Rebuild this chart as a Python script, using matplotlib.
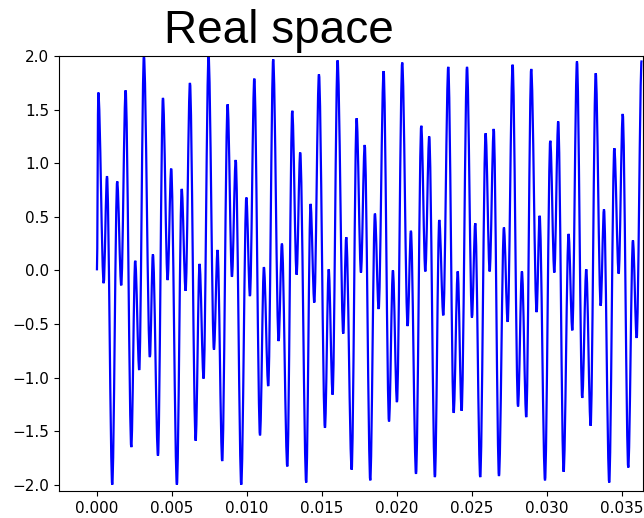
import matplotlib
matplotlib.use("Agg")
import matplotlib.pyplot as plt
from matplotlib.path import Path
from matplotlib.patches import PathPatch

# turning points of the waveform (time in s, amplitude)
t_ext = [
    0.0, 0.00009, 0.00045, 0.00067, 0.00102, 0.00135, 0.00162, 0.00191, 0.00229, 0.00255,
    0.00282, 0.00313, 0.00353, 0.00373, 0.00407, 0.0044, 0.00471, 0.00495, 0.00533, 0.00565,
    0.00591, 0.0062, 0.00658, 0.00684, 0.00711, 0.00744, 0.0078, 0.00804, 0.00835, 0.00871,
    0.009, 0.00925, 0.00962, 0.00996, 0.0102, 0.01049, 0.01087, 0.01113, 0.01142, 0.01175,
    0.01211, 0.01233, 0.01269, 0.01302, 0.01331, 0.01355, 0.01395, 0.01424, 0.01449, 0.0148,
    0.0152, 0.01545, 0.01571, 0.01604, 0.01642, 0.01662, 0.01698, 0.01731, 0.0176, 0.01785,
    0.01822, 0.01853, 0.01878, 0.01911, 0.01947, 0.01973, 0.02, 0.02035, 0.02071, 0.02093,
    0.02127, 0.02162, 0.02189, 0.02215, 0.02253, 0.02282, 0.02309, 0.02342, 0.02378, 0.02405,
    0.02431, 0.02467, 0.025, 0.02522, 0.02555, 0.02591, 0.02618, 0.02645, 0.0268, 0.02713,
    0.02738, 0.02771, 0.02807, 0.02833, 0.02862, 0.02895, 0.02931, 0.02951, 0.02987, 0.03022,
    0.03049, 0.03075, 0.03111, 0.03144, 0.03169, 0.032, 0.03235, 0.03262, 0.03291, 0.03325,
    0.03358, 0.0338, 0.03415, 0.03449, 0.03478, 0.03505, 0.03542, 0.03573, 0.03598, 0.03631,
]
v_ext = [
    0.0, 1.66, -0.12, 0.88, -2.0, 0.83, -0.14, 1.68, -1.65, 0.09,
    -0.93, 2.0, -0.81, 0.15, -1.73, 1.61, -0.09, 0.95, -2.0, 0.76,
    -0.19, 1.75, -1.59, 0.06, -1.01, 2.0, -0.74, 0.19, -1.78, 1.55,
    -0.06, 1.03, -2.0, 0.68, -0.24, 1.79, -1.54, 0.03, -1.08, 1.97,
    -0.66, 0.25, -1.83, 1.49, -0.04, 1.10, -1.98, 0.62, -0.30, 1.83,
    -1.47, 0.01, -1.16, 1.96, -0.59, 0.31, -1.86, 1.42, -0.02, 1.17,
    -1.96, 0.53, -0.36, 1.86, -1.41, 0.0, -1.23, 1.94, -0.52, 0.37,
    -1.90, 1.35, -0.01, 1.25, -1.93, 0.47, -0.42, 1.90, -1.33, -0.01,
    -1.31, 1.90, -0.44, 0.44, -1.93, 1.28, -0.01, 1.32, -1.92, 0.40,
    -0.48, 1.92, -1.27, -0.01, -1.37, 1.88, -0.39, 0.51, -1.96, 1.21,
    -0.02, 1.39, -1.88, 0.34, -0.56, 1.95, -1.19, 0.01, -1.45, 1.84,
    -0.33, 0.57, -1.98, 1.14, -0.03, 1.46, -1.84, 0.28, -0.63, 1.96,
]
xticks = [0.000, 0.005, 0.010, 0.015, 0.020, 0.025, 0.030, 0.035]
yticks = [-2.0, -1.5, -1.0, -0.5, 0.0, 0.5, 1.0, 1.5, 2.0]

fig = plt.figure(figsize=(6.44, 5.18), dpi=100)
ax = fig.add_axes([0.0916, 0.052, 0.9068, 0.8407])

# smooth cubic segments between turning points (flat tangent at each extremum)
verts = [(t_ext[0], v_ext[0])]
codes = [Path.MOVETO]
for i in range(1, len(t_ext)):
    t0, v0 = t_ext[i - 1], v_ext[i - 1]
    t1, v1 = t_ext[i], v_ext[i]
    h = t1 - t0
    verts += [(t0 + h / 3, v0), (t1 - h / 3, v1), (t1, v1)]
    codes += [Path.CURVE4] * 3
ax.add_patch(PathPatch(Path(verts, codes), fill=False, edgecolor="blue", lw=1.6))

ax.set_xlim(-0.00253, 0.0364)
ax.set_ylim(-2.06, 2.005)
ax.set_xticks(xticks)
ax.set_xticklabels([f"{x:.3f}" for x in xticks])
ax.set_yticks(yticks)
ax.set_yticklabels([f"{y:.1f}".replace("-", "\u2212") for y in yticks])
ax.tick_params(labelsize=11)

ax.set_title("Real space", x=0.377, pad=9, fontsize=33, family="Liberation Sans")

fig.savefig("out.png", dpi=100)
